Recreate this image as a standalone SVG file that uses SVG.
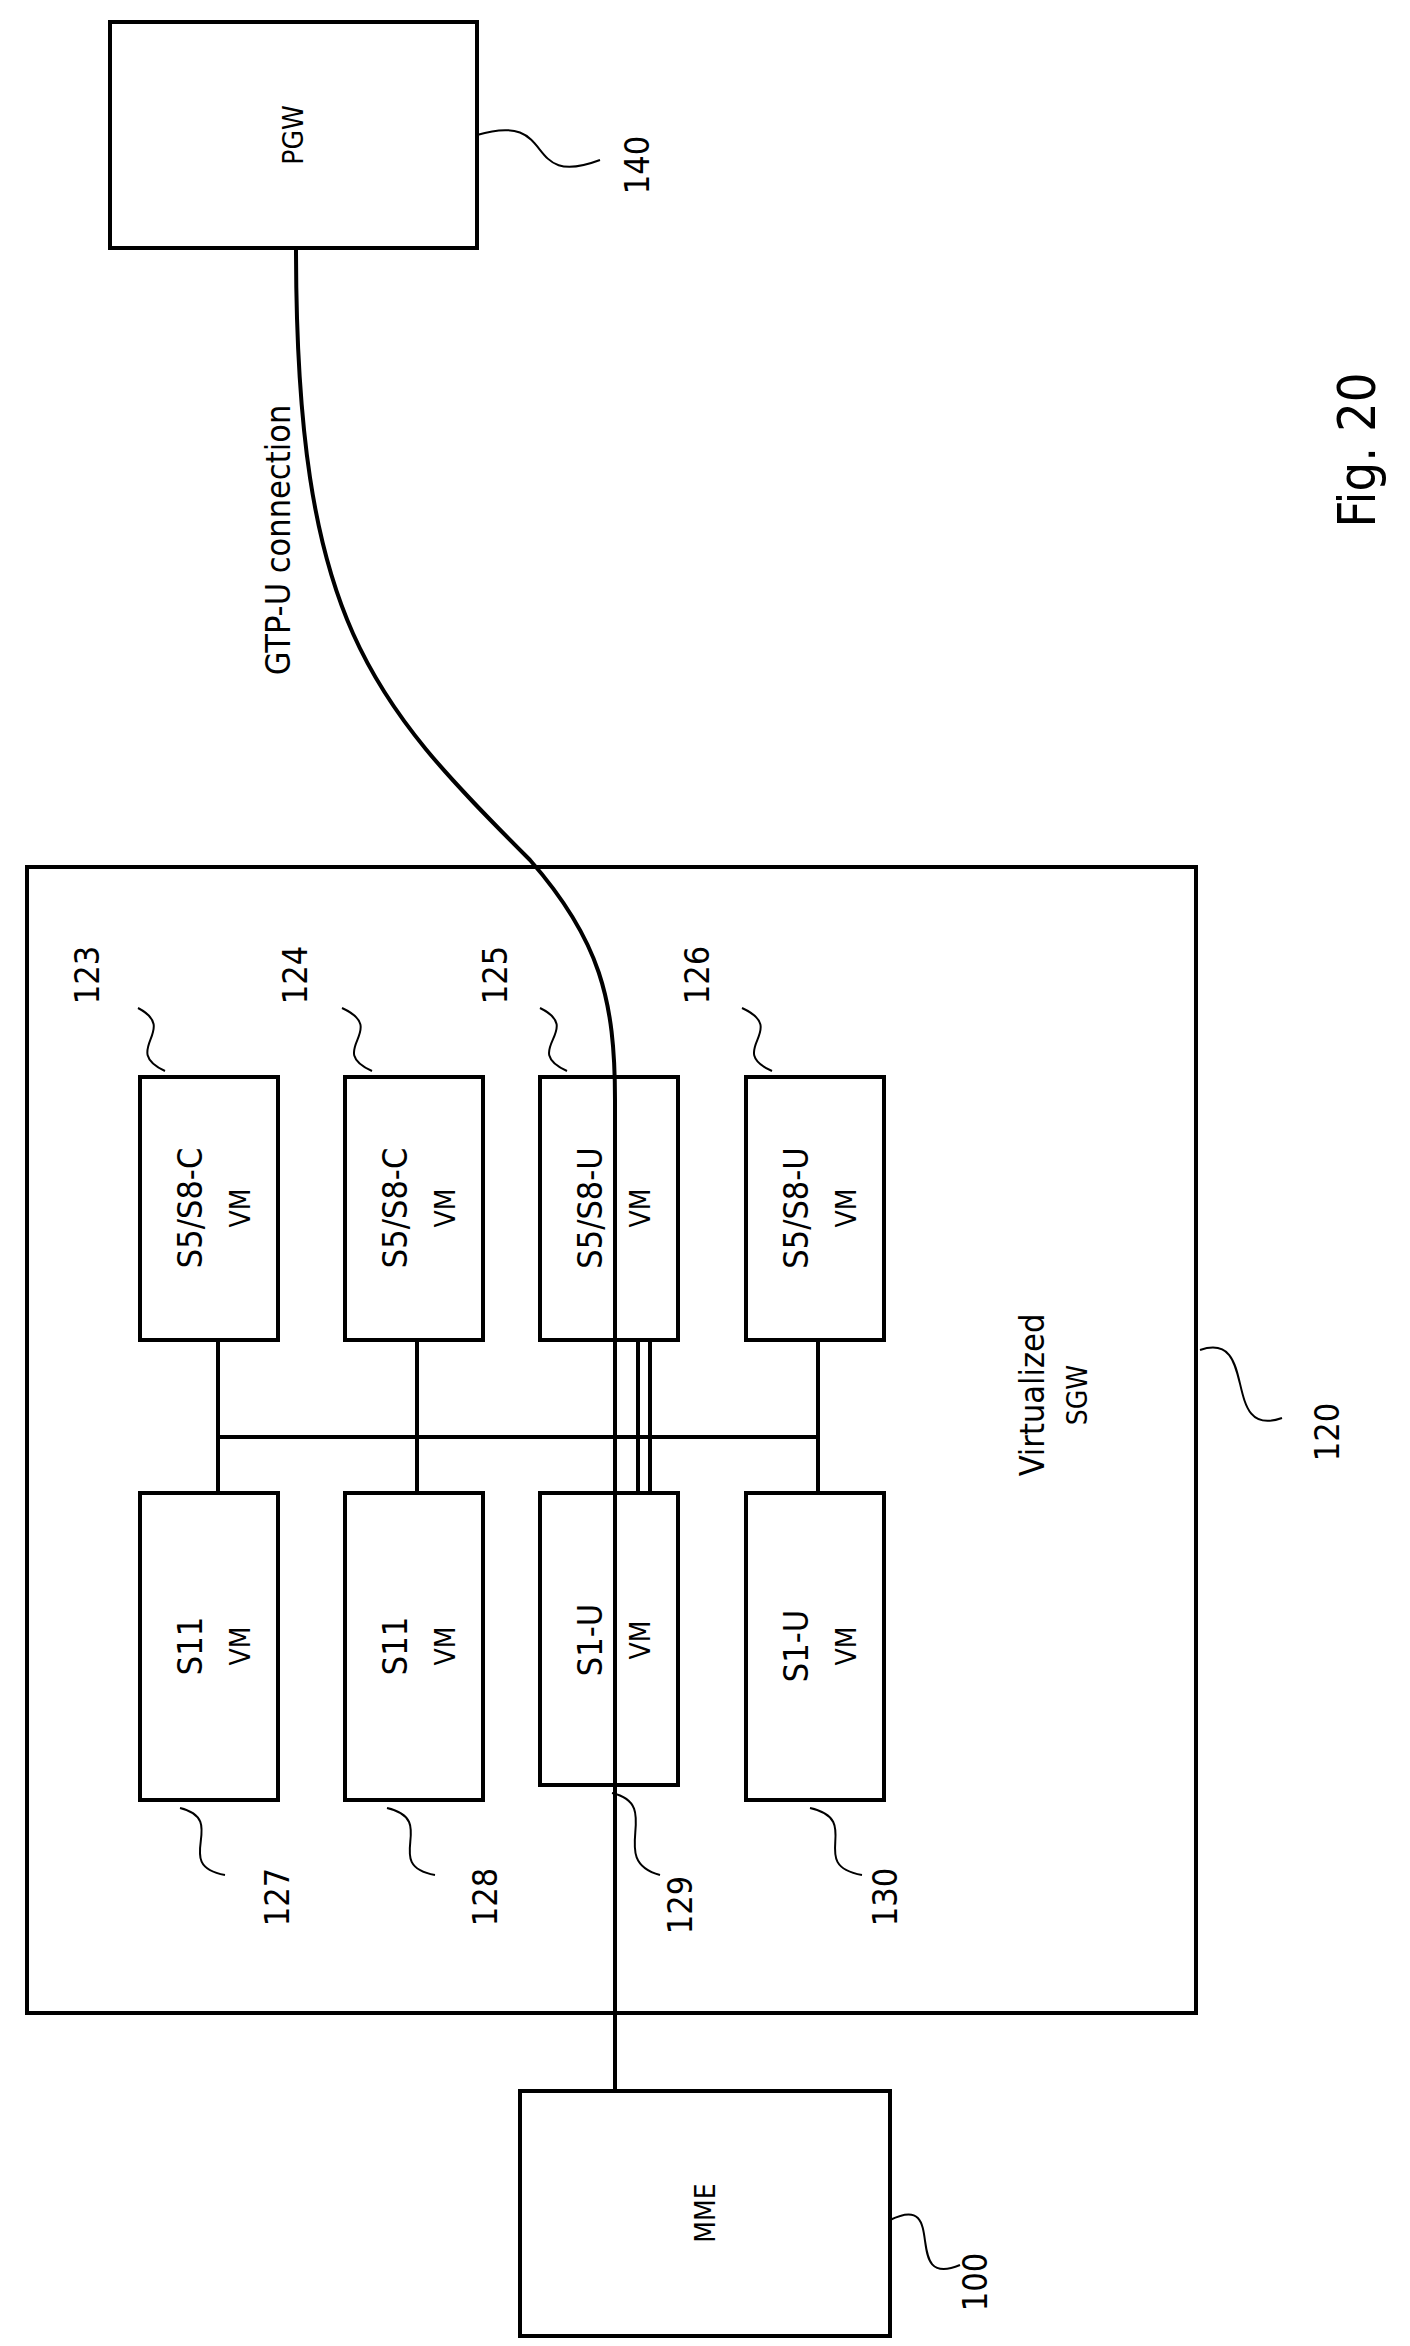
<svg xmlns="http://www.w3.org/2000/svg" width="1410" height="2346" viewBox="0 0 1410 2346">
<style>
.b{fill:#fff;stroke:#000;stroke-width:4}
.l{fill:none;stroke:#000;stroke-width:4}
.q{fill:none;stroke:#000;stroke-width:2}
text{font-family:"DejaVu Sans Condensed","Liberation Sans",sans-serif;font-size:34px;text-anchor:middle;dominant-baseline:central;fill:#000}
.s{font-size:28px}
</style>
<rect width="1410" height="2346" fill="#fff"/>
<g id="sgw"><rect class="b" x="27" y="867" width="1169" height="1146"/>
<text transform="translate(1032,1395) rotate(-90)">Virtualized</text>
<text transform="translate(1077,1395) rotate(-90)" class="s">SGW</text>
<path class="q" d="M1200 1350 C1260 1330,1220 1440,1282 1418"/><text transform="translate(1327,1432) rotate(-90)">120</text></g>
<g id="pgw"><rect class="b" x="110" y="22" width="367" height="226"/><text transform="translate(293,135) rotate(-90)" class="s">PGW</text>
<path class="q" d="M477 135 C560 110,520 190,600 160"/><text transform="translate(637,165) rotate(-90)">140</text></g>
<text transform="translate(278,540) rotate(-90)">GTP-U connection</text>
<g id="mme"><rect class="b" x="520" y="2091" width="370" height="245"/><text transform="translate(705,2213) rotate(-90)" class="s">MME</text>
<path class="q" d="M890 2220 C950 2190,900 2290,960 2265"/><text transform="translate(975,2282) rotate(-90)">100</text></g>
<g id="n123"><rect class="b" x="140" y="1077" width="138" height="263"/><text transform="translate(190,1208) rotate(-90)">S5/S8-C</text><text transform="translate(240,1208) rotate(-90)" class="s">VM</text>
<path class="q" d="M165 1071 C120 1050,180 1030,138 1008"/><text transform="translate(87,975) rotate(-90)">123</text></g>
<g id="n124"><rect class="b" x="345" y="1077" width="138" height="263"/><text transform="translate(395,1208) rotate(-90)">S5/S8-C</text><text transform="translate(445,1208) rotate(-90)" class="s">VM</text>
<path class="q" d="M372 1071 C325 1050,390 1030,342 1008"/><text transform="translate(295,975) rotate(-90)">124</text></g>
<g id="n125"><rect class="b" x="540" y="1077" width="138" height="263"/><text transform="translate(590,1208) rotate(-90)">S5/S8-U</text><text transform="translate(640,1208) rotate(-90)" class="s">VM</text>
<path class="q" d="M567 1071 C520 1050,585 1030,540 1008"/><text transform="translate(495,975) rotate(-90)">125</text></g>
<g id="n126"><rect class="b" x="746" y="1077" width="138" height="263"/><text transform="translate(796,1208) rotate(-90)">S5/S8-U</text><text transform="translate(846,1208) rotate(-90)" class="s">VM</text>
<path class="q" d="M772 1071 C725 1050,790 1030,742 1008"/><text transform="translate(697,975) rotate(-90)">126</text></g>
<g id="n127"><rect class="b" x="140" y="1493" width="138" height="307"/><text transform="translate(190,1646) rotate(-90)">S11</text><text transform="translate(240,1646) rotate(-90)" class="s">VM</text>
<path class="q" d="M180 1808 C230 1820,170 1865,225 1875"/><text transform="translate(277,1897) rotate(-90)">127</text></g>
<g id="n128"><rect class="b" x="345" y="1493" width="138" height="307"/><text transform="translate(395,1646) rotate(-90)">S11</text><text transform="translate(445,1646) rotate(-90)" class="s">VM</text>
<path class="q" d="M387 1808 C440 1820,380 1865,435 1875"/><text transform="translate(485,1897) rotate(-90)">128</text></g>
<g id="n129"><rect class="b" x="540" y="1493" width="138" height="292"/><text transform="translate(590,1640) rotate(-90)">S1-U</text><text transform="translate(640,1640) rotate(-90)" class="s">VM</text>
<path class="q" d="M612 1793 C665 1805,605 1860,660 1875"/><text transform="translate(680,1905) rotate(-90)">129</text></g>
<g id="n130"><rect class="b" x="746" y="1493" width="138" height="307"/><text transform="translate(796,1646) rotate(-90)">S1-U</text><text transform="translate(846,1646) rotate(-90)" class="s">VM</text>
<path class="q" d="M810 1808 C865 1820,805 1865,862 1875"/><text transform="translate(885,1897) rotate(-90)">130</text></g>
<g id="connectors">
<path class="l" d="M218 1340V1493M417 1340V1493M638 1340V1493M650 1340V1493M818 1340V1493M218 1437H818"/>
<path class="l" d="M296 248 C296 620,370 700,530 860 C600 940,615 1000,615 1100 L615 2091"/>
</g>
<text transform="translate(1357,450) rotate(-90)" style="font-size:52px">Fig. 20</text>
</svg>
